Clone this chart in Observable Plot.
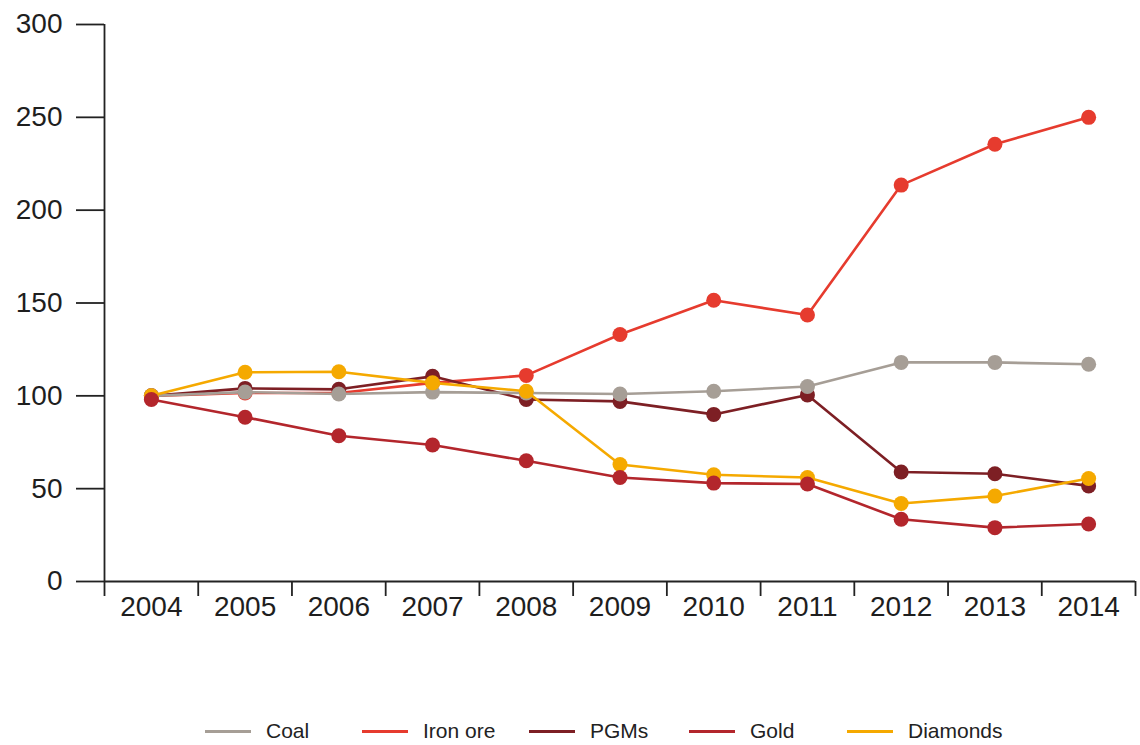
<!DOCTYPE html>
<html><head><meta charset="utf-8">
<script src="https://cdn.jsdelivr.net/npm/d3@7"></script>
<script src="https://cdn.jsdelivr.net/npm/@observablehq/plot@0.6"></script>
<style>
body{margin:0;background:#fff;font-family:"Liberation Sans",Arial,sans-serif;}
#legend{position:relative;height:30px;margin-top:80px;font-size:21px;color:#222;line-height:22px;}
.item{position:absolute;top:0;display:flex;align-items:center;}
.sw{width:46px;height:3px;margin-right:15px;}
</style></head><body>
<div id="chart"></div>
<div id="legend"></div>
<script>
const years = [2004,2005,2006,2007,2008,2009,2010,2011,2012,2013,2014];
const coal     = [100,102,101,102,101.5,101,102.5,105,118,118,117];
const ironOre  = [100,101.5,101.5,107,111,133,151.5,143.5,213.5,235.5,250];
const pgms     = [100,104,103.5,110.5,98,97,90,100.5,59,58,51.5];
const gold     = [98,88.5,78.5,73.5,65,56,53,52.5,33.5,29,31];
const diamonds = [100,112.7,113,107,102.5,63,57.5,56,42,46,55.5];
const seriesNames  = ["Coal","Iron ore","PGMs","Gold","Diamonds"];
const seriesColors = ["#a69e96","#e63b2e","#7d1f24","#b3262c","#f5a900"];
const yTicks = [0,50,100,150,200,250,300];

const seriesValues = {"Coal":coal,"Iron ore":ironOre,"PGMs":pgms,"Gold":gold,"Diamonds":diamonds};
const colorOf = name => seriesColors[seriesNames.indexOf(name)];
const drawOrder = ["Iron ore","PGMs","Coal","Diamonds","Gold"];
const boundaries = years.map(y => y - 0.5).concat([years[years.length-1] + 0.5]);

const seriesMarks = drawOrder.flatMap(name => {
  const rows = years.map((yr, i) => ({year: yr, value: seriesValues[name][i]}));
  return [
    Plot.line(rows, {x:"year", y:"value", stroke:colorOf(name), strokeWidth:2.6}),
    Plot.dot(rows, {x:"year", y:"value", fill:colorOf(name), r:7.5})
  ];
});

const chart = Plot.plot({
  width:1140, height:640,
  marginLeft:104, marginRight:5, marginTop:24, marginBottom:59,
  x:{type:"linear", domain:[boundaries[0], boundaries[boundaries.length-1]]},
  y:{domain:[0,300]},
  style:{fontFamily:"'Liberation Sans', Arial, sans-serif", fontSize:"28px", color:"#1e1e1e", background:"white", overflow:"visible"},
  marks:[
    Plot.axisY({ticks:yTicks, tickSize:28, tickPadding:14, stroke:"#222", strokeWidth:1.8, label:null, fontSize:28}),
    Plot.axisX({ticks:boundaries, tickSize:15, tickFormat:() => "", stroke:"#222", strokeWidth:1.8, label:null}),
    Plot.axisX({ticks:years, tickSize:0, tickPadding:15, tickFormat:d => String(d), label:null, fontSize:28}),
    Plot.ruleX([boundaries[0]], {stroke:"#222", strokeWidth:1.8}),
    Plot.ruleY([0], {stroke:"#222", strokeWidth:1.8}),
    ...seriesMarks
  ]
});
document.getElementById("chart").appendChild(chart);

const legendLeft = [205, 362, 529, 689, 847];
const legend = document.getElementById("legend");
seriesNames.forEach((name, i) => {
  const item = document.createElement("div");
  item.className = "item";
  item.style.left = legendLeft[i] + "px";
  const sw = document.createElement("div");
  sw.className = "sw";
  sw.style.background = seriesColors[i];
  const t = document.createElement("span");
  t.textContent = name;
  item.appendChild(sw); item.appendChild(t);
  legend.appendChild(item);
});
</script>
</body></html>
